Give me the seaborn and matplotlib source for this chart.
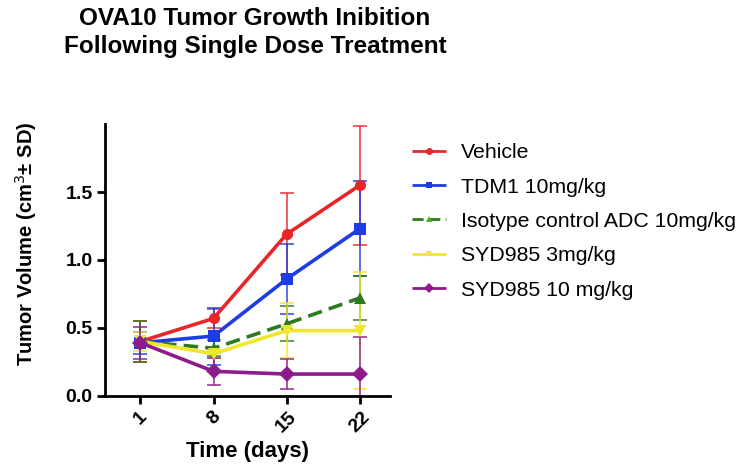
import numpy as np
import pandas as pd
import matplotlib
matplotlib.use("Agg")
import matplotlib.pyplot as plt
import seaborn as sns

# datos
days = [1, 8, 15, 22]
groups = ["Vehicle", "TDM1 10mg/kg", "Isotype control ADC 10mg/kg",
          "SYD985 3mg/kg", "SYD985 10 mg/kg"]
vehicle = [0.40, 0.57, 1.19, 1.55]
vehicle_sd = [0.15, 0.07, 0.30, 0.44]
tdm1 = [0.39, 0.44, 0.86, 1.23]
tdm1_sd = [0.08, 0.21, 0.26, 0.35]
isotype = [0.40, 0.35, 0.53, 0.72]
isotype_sd = [0.15, 0.06, 0.13, 0.16]
syd3 = [0.40, 0.31, 0.48, 0.48]
syd3_sd = [0.07, 0.03, 0.20, 0.43]
syd10 = [0.39, 0.18, 0.16, 0.16]
syd10_sd = [0.12, 0.10, 0.11, 0.27]

means = [vehicle, tdm1, isotype, syd3, syd10]
sds = [vehicle_sd, tdm1_sd, isotype_sd, syd3_sd, syd10_sd]
colors = ["#E8262A", "#1E3CE6", "#2F7A1F", "#F0E62C", "#8E1B8C"]
markers = ["o", "s", "^", "v", "D"]

rows = []
for g, m, s in zip(groups, means, sds):
    for d, v, e in zip(days, m, s):
        rows.append({"day": d, "vol": v, "sd": e, "group": g})
df = pd.DataFrame(rows)

sns.set_style("ticks")
plt.rcParams['font.family'] = ['Liberation Sans', 'DejaVu Sans']
plt.rcParams['text.color'] = 'black'
plt.rcParams['axes.labelcolor'] = 'black'
plt.rcParams['xtick.color'] = 'black'
plt.rcParams['ytick.color'] = 'black'

fig = plt.figure(figsize=(7.5, 4.74), dpi=100)
ax = fig.add_axes([0.14, 0.165, 0.38, 0.573])

# barras de error
for g, c in zip(groups, colors):
    sub = df[df.group == g]
    ax.errorbar(sub.day, sub.vol, yerr=sub.sd, fmt="none", ecolor=c,
                elinewidth=1.3, capsize=5, capthick=1.3, alpha=0.8, zorder=2)

sns.lineplot(data=df, x="day", y="vol", hue="group", style="group",
             hue_order=groups, style_order=groups, palette=colors,
             markers=markers,
             dashes=[(1, 0), (1, 0), (4, 2), (1, 0), (1, 0)],
             linewidth=2.6, markersize=8, markeredgewidth=0, ax=ax, zorder=3)

# marcador verde claro para el isotipo
for line in ax.get_lines():
    if line.get_label() == groups[2]:
        line.set_markerfacecolor("#4FAF2A")

ax.set_xlim(-2.4, 24.9)
ax.set_ylim(0, 2.0)
ax.set_xticks(days)
ax.set_xticklabels([str(d) for d in days], rotation=45, fontweight="bold", fontsize=14)
ax.set_yticks([0.0, 0.5, 1.0, 1.5])
ax.set_yticklabels(["0.0", "0.5", "1.0", "1.5"], fontweight="bold", fontsize=14)
ax.tick_params(width=2, length=6, color="black", pad=3)
for sp in ["left", "bottom"]:
    ax.spines[sp].set_linewidth(2)
    ax.spines[sp].set_color("black")
sns.despine(ax=ax)

ax.set_xlabel("Time (days)", fontweight="bold", fontsize=16, labelpad=4)
ax.set_ylabel("Tumor Volume (cm$^3$± SD)", fontweight="bold", fontsize=14.5)
ax.yaxis.set_label_coords(-0.23, 0.56)

handles, labels = ax.get_legend_handles_labels()
leg = ax.legend(handles, labels, loc="upper left", bbox_to_anchor=(1.01, 1.0),
                frameon=False, fontsize=15.3, handlelength=1.6, labelspacing=0.72,
                handletextpad=0.7)
for h in leg.get_lines():
    h.set_markersize(5)
    h.set_linewidth(2)

fig.text(0.34, 0.985, "OVA10 Tumor Growth Inibition\nFollowing Single Dose Treatment",
         ha="center", va="top", fontsize=17.5, fontweight="bold", linespacing=1.25)

fig.savefig("out.png", dpi=100)
